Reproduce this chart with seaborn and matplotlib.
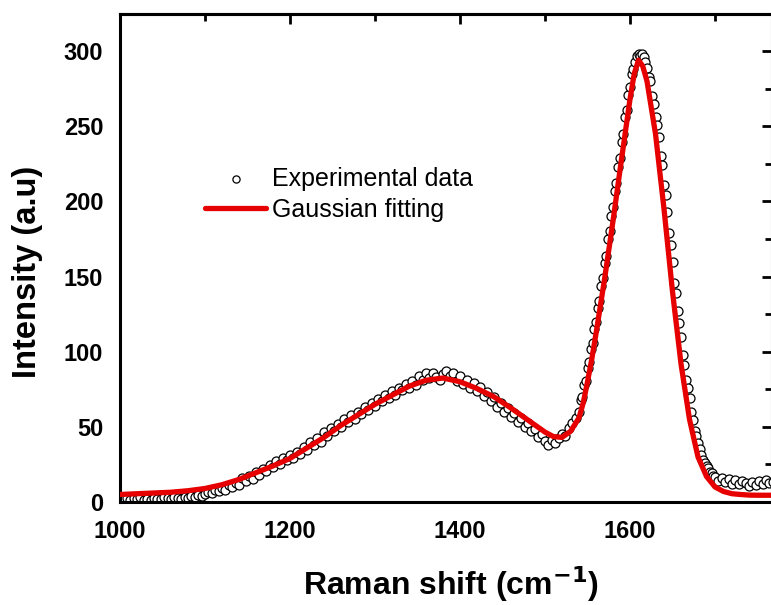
import numpy as np
import pandas as pd
import matplotlib
matplotlib.use("Agg")
import matplotlib.pyplot as plt
from matplotlib.ticker import MultipleLocator
import seaborn as sns

# ---------------- data ----------------
# experimental data, segment 1: 1000..1536 step 4
exp_x1 = list(range(1000, 1540, 4))
exp_y1 = [
    2.1, 1.5, 2.8, 1.2, 2.4, 1.8, 3.0, 1.6, 2.2, 1.4, 2.9, 2.0, 1.7, 3.1, 2.5, 1.9, 3.3, 2.6, 2.0, 3.6, 2.8, 4.0, 3.2, 4.4, 3.9,
    5.2, 6.8, 5.9, 8.1, 7.0, 9.5, 8.2, 11.0, 9.8, 12.5, 11.2, 15.8, 13.9, 17.5, 15.2, 19.8, 18.1, 21.9, 20.4, 24.8, 23.0, 27.2, 25.6, 29.5, 28.0,
    31.0, 29.2, 33.5, 32.0, 36.8, 34.5, 39.9, 38.2, 42.6, 40.1, 46.3, 44.0, 49.2, 47.5, 52.0, 49.8, 55.1, 53.0, 57.9, 55.4, 60.2, 58.3, 63.5, 61.0, 66.2,
    64.0, 68.5, 66.9, 71.2, 69.0, 73.8, 71.5, 76.0, 74.2, 78.5, 75.9, 80.8, 78.0, 84.0, 81.2, 85.5, 82.4, 86.0, 83.1, 81.5, 85.2, 87.4, 83.6, 86.1, 80.5,
    84.0, 78.2, 81.5, 76.0, 79.4, 74.1, 76.8, 70.5, 73.2, 67.0, 69.8, 63.5, 66.0, 60.2, 62.5, 56.8, 58.9, 53.2, 55.6, 50.1, 52.4, 47.0, 48.5, 43.2, 45.0,
    40.5, 38.0, 41.2, 39.5, 42.8, 45.5, 44.2, 49.0, 52.5, 56.0,
]
# segment 2: 1540..1698 step 2 (G band)
exp_x2 = list(range(1540, 1700, 2))
exp_y2 = [
    60, 68, 70, 78, 80.5, 89, 93, 102, 106, 115, 119.5, 129, 134, 144, 149, 159, 164, 175, 180, 190.5,
    196, 207, 212, 223, 229, 239.5, 245, 256, 261, 271, 276, 284.5, 288, 293, 297, 298, 296.5, 298,
    296, 293, 289, 283, 280, 270, 265, 256, 251, 243, 230, 224, 211, 204, 193, 179, 171, 160, 146, 139,
    127, 119, 110, 98, 91, 81, 76, 69, 60, 54.5, 47, 44, 39, 35, 31, 28, 26, 24, 22.5, 20, 19.5, 17,
]
# segment 3: 1700..1768 step 4
exp_x3 = list(range(1700, 1772, 4))
exp_y3 = [16.5, 14.2, 15.8, 13.0, 15.1, 12.2, 14.6, 11.8, 13.9, 12.5, 10.8, 13.4, 11.6, 14.0, 12.1, 14.8, 12.7, 13.5]

fit_x = [1000, 1020, 1040, 1060, 1080, 1100, 1120, 1140, 1160, 1180, 1200, 1220, 1240, 1260, 1280,
         1300, 1320, 1340, 1360, 1380, 1400, 1420, 1440, 1460, 1480, 1500, 1510, 1520, 1530, 1540,
         1545, 1550, 1555, 1560, 1570, 1580, 1590, 1600, 1605, 1610, 1615, 1620, 1630, 1640, 1650,
         1660, 1670, 1680, 1690, 1700, 1710, 1720, 1730, 1740, 1750, 1760, 1770]
fit_y = [5, 5.5, 6, 6.5, 7.5, 9, 11.5, 15, 19.5, 24, 29, 36, 43, 51, 58,
         65, 71, 77, 81, 82.5, 80, 75.5, 70, 62.5, 54.5, 46.5, 43.5, 43, 47, 56,
         66, 80, 95, 112, 148, 187, 228, 268, 285, 294, 290, 280, 245, 195, 140,
         92, 55, 30, 17, 10, 7, 5.5, 5, 4.6, 4.5, 4.5, 4.5]

x_ticks = [1000, 1200, 1400, 1600]
y_ticks = [0, 50, 100, 150, 200, 250, 300]
legend_labels = ["Experimental data", "Gaussian fitting"]

exp_df = pd.DataFrame({"x": exp_x1 + exp_x2 + exp_x3, "y": exp_y1 + exp_y2 + exp_y3})
fit_df = pd.DataFrame({"x": fit_x, "y": fit_y})

# ---------------- plot ----------------
sns.set_style("white")
plt.rcParams["font.family"] = ["Liberation Sans", "DejaVu Sans"]
plt.rcParams["text.color"] = "black"
plt.rcParams["axes.labelcolor"] = "black"
plt.rcParams["xtick.color"] = "black"
plt.rcParams["ytick.color"] = "black"

W, H = 771, 605
fig = plt.figure(figsize=(W / 100, H / 100), dpi=100)
left_px, right_px, top_px, bottom_px = 120, 772, 14, 502
ax = fig.add_axes([left_px / W, 1 - bottom_px / H, (right_px - left_px) / W, (bottom_px - top_px) / H])

sns.scatterplot(data=exp_df, x="x", y="y", ax=ax, marker="o", s=42,
                facecolor="white", edgecolor="black", linewidth=0.9,
                label=legend_labels[0], zorder=2)
sns.lineplot(data=fit_df, x="x", y="y", ax=ax, color="#e60000", linewidth=3.8,
             sort=False, estimator=None, label=legend_labels[1], zorder=3,
             solid_joinstyle="round", solid_capstyle="round")

ax.set_xlim(1000, 1000 + (right_px - left_px) / 0.85)
ax.set_ylim(0, 324.7)

ax.set_xticks(x_ticks)
ax.set_yticks(y_ticks)
ax.xaxis.set_minor_locator(MultipleLocator(100))
ax.yaxis.set_minor_locator(MultipleLocator(25))

for s in ax.spines.values():
    s.set_linewidth(2.2)
    s.set_color("black")
    s.set_visible(True)

ax.tick_params(axis="both", which="major", direction="out", length=7, width=2,
               labelsize=17, top=False, right=False)
ax.tick_params(axis="both", which="minor", direction="out", length=5, width=2,
               top=False, right=False)
ax.tick_params(axis="x", which="major", pad=6)
ax.tick_params(axis="y", which="major", pad=5)

# inward ticks on the top and right sides
sec_x = ax.secondary_xaxis("top")
sec_x.set_xticks(x_ticks)
sec_x.xaxis.set_minor_locator(MultipleLocator(100))
sec_x.tick_params(which="major", direction="in", length=7, width=2, labeltop=False)
sec_x.tick_params(which="minor", direction="in", length=5, width=2)
sec_y = ax.secondary_yaxis("right")
sec_y.set_yticks(y_ticks)
sec_y.yaxis.set_minor_locator(MultipleLocator(25))
sec_y.tick_params(which="major", direction="in", length=7, width=2, labelright=False)
sec_y.tick_params(which="minor", direction="in", length=5, width=2)
for sa in (sec_x, sec_y):
    for s in sa.spines.values():
        s.set_linewidth(2.2)
        s.set_color("black")

for lab in ax.get_xticklabels() + ax.get_yticklabels():
    lab.set_fontweight("bold")

ax.set_xlabel("Raman shift (cm$^{\\mathbf{-1}}$)", fontsize=23, fontweight="bold")
ax.set_ylabel("Intensity (a.u)", fontsize=23.5, fontweight="bold")
ax.xaxis.set_label_coords((451 - left_px) / (right_px - left_px), -0.127)
ax.yaxis.set_label_coords(-0.118, (bottom_px - 272) / (bottom_px - top_px))

leg = ax.legend(loc="upper left",
                bbox_to_anchor=((205 - left_px) / (right_px - left_px), (bottom_px - 167) / (bottom_px - top_px)),
                frameon=False, fontsize=18, handlelength=2.45, handletextpad=0.25, borderaxespad=0,
                borderpad=0, labelspacing=0.28, markerscale=0.8)
for t in leg.get_texts():
    t.set_color("black")

fig.savefig("out.png", dpi=100)
